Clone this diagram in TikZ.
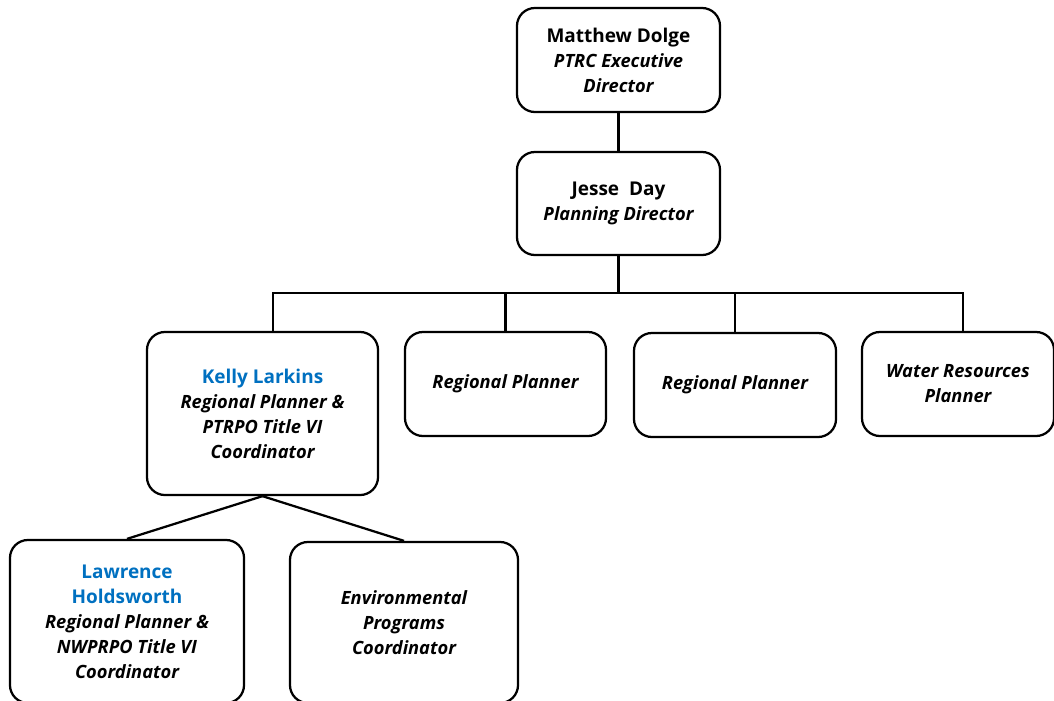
\documentclass[tikz,border=0pt]{standalone}
\usepackage{fontspec}
\setmainfont{Open Sans}
\usetikzlibrary{positioning,calc}
\definecolor{nameblue}{RGB}{0,112,192}
\tikzset{
  post/.style={draw, line width=1.6pt, rounded corners=0.45cm, align=center, inner sep=2pt,
    font=\bfseries\itshape\fontsize{13}{17.8}\selectfont},
  size/.style 2 args={minimum width=#1, minimum height=#2},
  link/.style={line width=1.6pt},
}
\newcommand{\who}[1]{{\upshape\fontsize{13.5}{17.8}\selectfont #1}}
\newcommand{\bluewho}[1]{{\upshape\fontsize{13.5}{17.8}\selectfont\color{nameblue}#1}}

\begin{document}
\begin{tikzpicture}[x=0.025cm, y=-0.025cm]
    \useasboundingbox (0,0) rectangle (1054,700);

    % Top of the chart
    \node[post, size={5.075cm}{2.6cm}] (exec) at (618.5,60) {\who{Matthew Dolge}\\PTRC Executive\\Director};
    \node[post, size={5.075cm}{2.575cm}] (plandir) at (618.5,203.5) {\who{Jesse\ \ Day}\\Planning Director};

    % Planners
    \node[post, size={5.775cm}{4.075cm}] (kelly) at (262.5,413.5) {\bluewho{Kelly Larkins}\\Regional Planner \&\\PTRPO Title VI\\Coordinator};
    \node[post, size={5.025cm}{2.6cm}] (regone) at (505.5,384) {Regional Planner};
    \node[post, size={5.05cm}{2.6cm}] (regtwo) at (735,385) {Regional Planner};
    \node[post, size={4.8cm}{2.6cm}] (water) at (958,384) {Water Resources\\Planner};

    % Below Kelly
    \node[post, size={5.85cm}{4.075cm}] (lawrence) at (127,621.5) {\bluewho{Lawrence}\\\bluewho{Holdsworth}\\Regional Planner \&\\NWPRPO Title VI\\Coordinator};
    \node[post, size={5.7cm}{4.025cm}] (enviro) at (404,622.5) {Environmental\\Programs\\Coordinator};

    % Connectors
    \coordinate (bus) at (618.5,293);
    \draw[link] (exec) -- (plandir);
    \draw[link] (plandir) -- (bus);
    \draw[link] (bus) -| ([xshift=0.26cm]kelly.north);
    \draw[link] (bus) -| (regone.north);
    \draw[link] (bus) -| (regtwo.north);
    \draw[link] (bus) -| ([xshift=0.125cm]water.north);
    \draw[link] (kelly.south) -- (lawrence.north);
    \draw[link] (kelly.south) -- (enviro.north);
\end{tikzpicture}
\end{document}
